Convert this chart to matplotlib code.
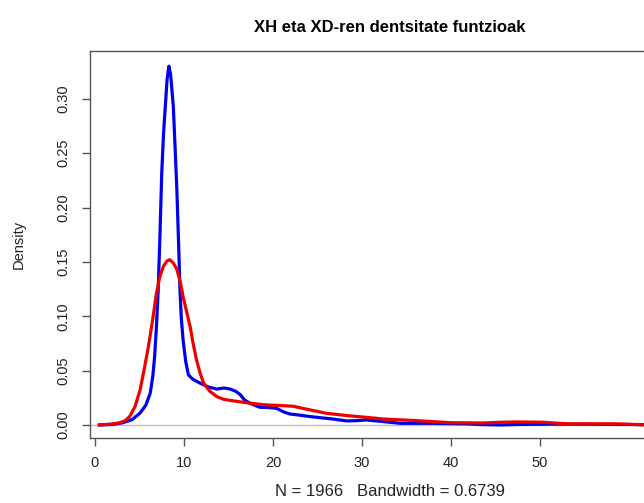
#!/usr/bin/env python3
import matplotlib
matplotlib.use("Agg")
import matplotlib.pyplot as plt

# values (x, density)
xh_x = [0.5, 2.0, 3.1, 4.2, 5.06, 5.7, 6.2, 6.5, 6.7, 6.9, 7.1, 7.3, 7.5, 7.7,
        7.9, 8.1, 8.3, 8.5, 8.8, 9.0, 9.2, 9.4, 9.55, 9.7, 9.9, 10.2, 10.5,
        11.0, 11.8, 12.7, 13.7, 14.5, 15.2, 15.8, 16.3, 16.8, 17.4, 18.5,
        19.5, 20.4, 21.2, 21.9, 23.0, 24.2, 25.5, 26.7, 28.3, 29.5, 30.5,
        32.5, 34.3, 38.0, 41.8, 43.5, 45.5, 47.5, 49.3, 53.0, 56.8, 62.0, 68.0]
xh_y = [0.0, 0.0005, 0.002, 0.005, 0.011, 0.018, 0.029, 0.045, 0.063, 0.09,
        0.124, 0.175, 0.232, 0.268, 0.293, 0.318, 0.330, 0.322, 0.293, 0.255,
        0.216, 0.165, 0.124, 0.098, 0.078, 0.058, 0.046, 0.042, 0.0385, 0.035,
        0.033, 0.034, 0.033, 0.031, 0.028, 0.023, 0.020, 0.0163, 0.016,
        0.0153, 0.012, 0.0101, 0.009, 0.0077, 0.0065, 0.0055, 0.0037, 0.004,
        0.0046, 0.003, 0.0015, 0.0015, 0.001, 0.0003, 0.0, 0.0004, 0.0006,
        0.0008, 0.0006, 0.0003, 0.0]

xd_x = [0.5, 1.8, 2.8, 3.4, 3.9, 4.5, 5.06, 5.5, 6.0, 6.5, 6.9, 7.3, 7.7, 8.1,
        8.4, 8.8, 9.2, 9.6, 9.9, 10.3, 10.7, 11.0, 11.4, 11.8, 12.2, 12.9,
        13.7, 14.5, 15.5, 17.0, 18.2, 19.3, 20.5, 22.3, 23.2, 24.2, 26.0,
        28.7, 30.5, 32.4, 36.1, 39.9, 43.6, 45.5, 47.4, 50.4, 53.0, 58.7,
        62.0, 68.0]
xd_y = [0.0, 0.0008, 0.002, 0.004, 0.0077, 0.017, 0.032, 0.05, 0.072, 0.098,
        0.121, 0.137, 0.146, 0.151, 0.152, 0.149, 0.143, 0.131, 0.118, 0.104,
        0.090, 0.076, 0.060, 0.048, 0.0385, 0.031, 0.026, 0.0235, 0.0222,
        0.0205, 0.0193, 0.0184, 0.018, 0.0172, 0.0155, 0.0138, 0.0107, 0.0083,
        0.007, 0.0055, 0.004, 0.0021, 0.0018, 0.0025, 0.0028, 0.0025, 0.001,
        0.001, 0.0, 0.0]

x_ticks = [0, 10, 20, 30, 40, 50]
y_ticks = [0.00, 0.05, 0.10, 0.15, 0.20, 0.25, 0.30]

plt.rcParams['font.family'] = ['Liberation Sans', 'DejaVu Sans']

fig = plt.figure(figsize=(6.44, 5.03), dpi=100)
# plot region runs past the right edge of the picture, as in the reference
ax = fig.add_axes([90/644, 65/503, 600/644, 387/503])

ax.axhline(0, color='#bebebe', lw=1, zorder=1)
ax.plot(xh_x, xh_y, color='#0000ee', lw=2.3, zorder=2)
ax.plot(xd_x, xd_y, color='#ee0000', lw=2.3, zorder=3)

ax.set_xlim((90 - 95) / 8.9, (690 - 95) / 8.9)
ax.set_ylim(-0.012, 0.344)
ax.set_xticks(x_ticks)
ax.set_xticklabels([str(t) for t in x_ticks])
ax.set_yticks(y_ticks)
ax.set_yticklabels(["%.2f" % t for t in y_ticks], rotation=90, va='center')

for s in ax.spines.values():
    s.set_color('#555555')
    s.set_linewidth(1.0)
ax.tick_params(direction='out', length=6, width=1, color='#555555',
               labelsize=10.5, labelcolor='#222222')
ax.tick_params(axis='x', pad=7)
ax.tick_params(axis='y', pad=8)

ax.set_title("XH eta XD-ren dentsitate funtzioak", fontsize=12,
             fontweight='bold', pad=14)
ax.set_xlabel("N = 1966   Bandwidth = 0.6739", fontsize=12,
              color='#222222', labelpad=10)
ax.set_ylabel("Density", fontsize=10.5, color='#222222', labelpad=22)

plt.savefig("out.png", dpi=100)
